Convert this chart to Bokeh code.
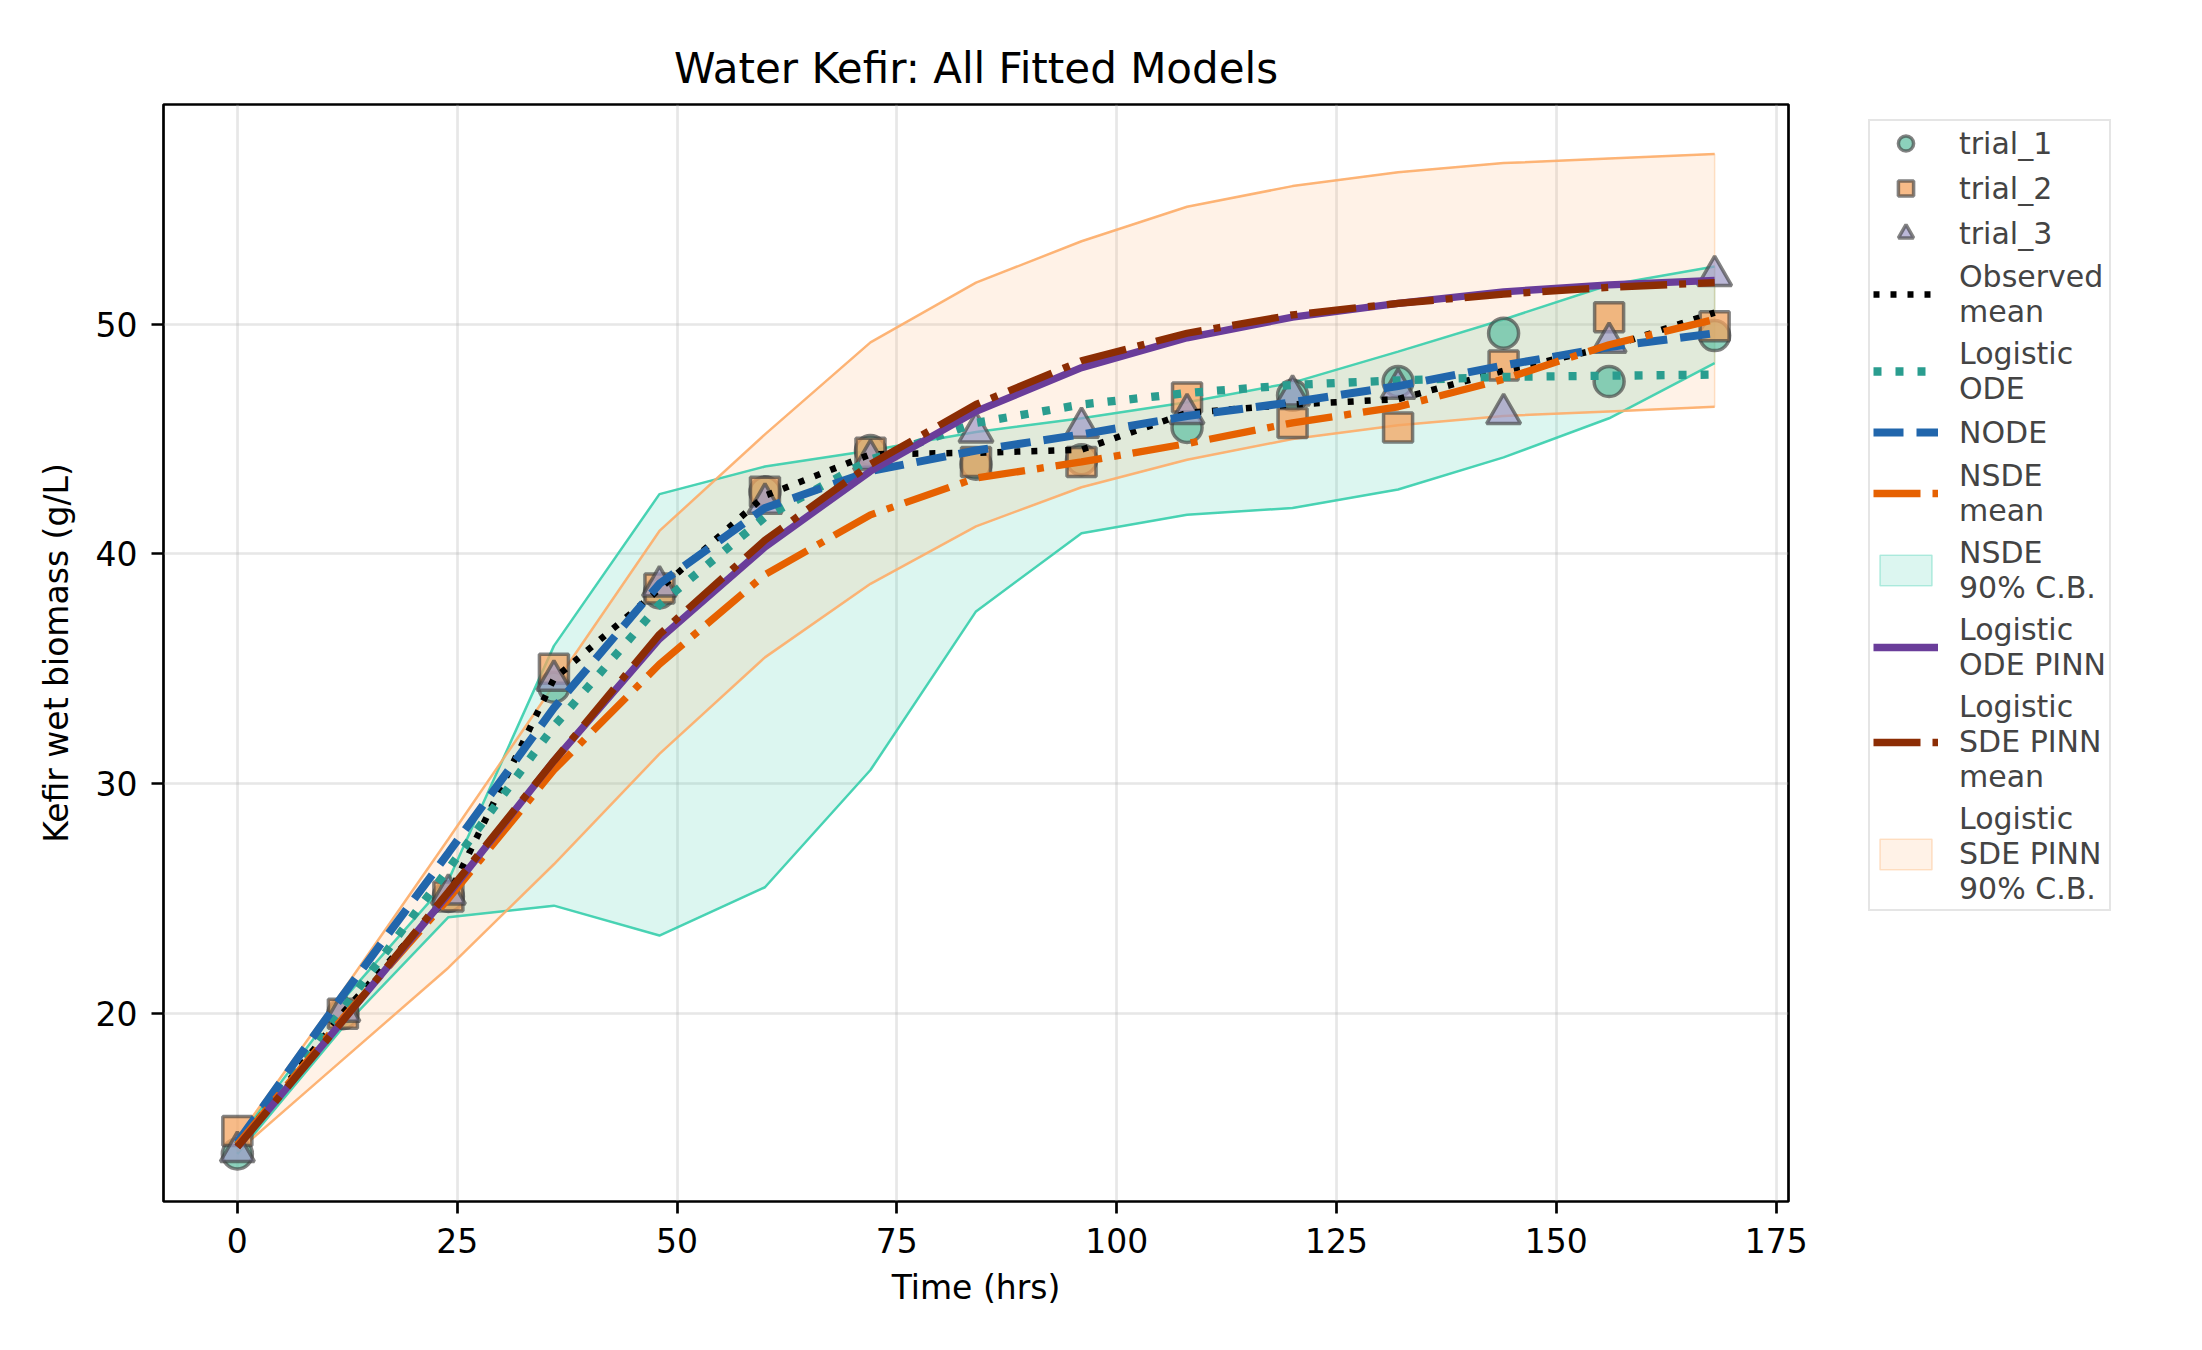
import numpy as np
from bokeh.embed import file_html
from bokeh.layouts import row
from bokeh.models import FixedTicker, Legend, LegendItem, Range1d
from bokeh.plotting import figure
from bokeh.resources import INLINE

# --- data ------------------------------------------------------------------
time_hrs = [0, 12, 24, 36, 48, 60, 72, 84, 96, 108, 120, 132, 144, 156, 168]

trial_1 = [13.9, 20.0, 25.1, 34.2, 38.3, 42.7, 44.5, 43.9, 44.1, 45.5, 46.9, 47.5, 49.6, 47.5, 49.5]
trial_2 = [14.9, 20.0, 25.1, 35.0, 38.5, 42.7, 44.4, 44.0, 44.0, 46.8, 45.7, 45.5, 48.2, 50.3, 49.9]
trial_3 = [14.0, 20.1, 25.2, 34.5, 38.6, 42.2, 44.1, 45.3, 45.5, 46.1, 46.9, 47.2, 46.1, 49.2, 52.1]

logistic_ode = [14.3, 20.2, 26.3, 32.5, 37.8, 41.6, 44.1, 45.7, 46.5, 47.0, 47.35, 47.55, 47.7, 47.75, 47.8]
node = [14.4, 20.8, 27.0, 33.3, 38.7, 42.0, 43.6, 44.5, 45.2, 46.0, 46.6, 47.3, 48.2, 49.0, 49.6]
nsde_mean = [14.3, 19.8, 25.0, 30.6, 35.2, 39.1, 41.7, 43.3, 44.0, 44.8, 45.7, 46.4, 47.6, 49.1, 50.2]
nsde_lower = [13.9, 19.4, 24.2, 24.7, 23.4, 25.5, 30.6, 37.5, 40.9, 41.7, 42.0, 42.8, 44.2, 45.9, 48.3]
nsde_upper = [14.5, 20.6, 25.8, 36.0, 42.6, 43.8, 44.5, 45.3, 45.9, 46.6, 47.45, 48.8, 50.2, 51.7, 52.5]
ode_pinn = [14.2, 19.7, 25.2, 31.0, 36.3, 40.3, 43.6, 46.2, 48.1, 49.4, 50.3, 50.9, 51.4, 51.7, 51.9]
sde_pinn_mean = [14.2, 19.7, 25.3, 31.0, 36.5, 40.6, 43.9, 46.5, 48.4, 49.6, 50.4, 50.9, 51.3, 51.6, 51.8]
sde_pinn_lower = [14.0, 18.0, 22.0, 26.5, 31.3, 35.5, 38.7, 41.2, 42.9, 44.1, 45.0, 45.6, 46.0, 46.2, 46.4]
sde_pinn_upper = [14.6, 21.0, 27.6, 34.3, 41.0, 45.2, 49.2, 51.8, 53.6, 55.1, 56.0, 56.6, 57.0, 57.2, 57.4]

x_ticks = [0, 25, 50, 75, 100, 125, 150, 175]
y_ticks = [20, 30, 40, 50]

legend_labels = [
    "trial_1", "trial_2", "trial_3", "Observed\nmean", "Logistic\nODE", "NODE",
    "NSDE\nmean", "NSDE\n90% C.B.", "Logistic\nODE PINN", "Logistic\nSDE PINN\nmean",
    "Logistic\nSDE PINN\n90% C.B.",
]

observed_mean = np.mean([trial_1, trial_2, trial_3], axis=0)

FONT = "DejaVu Sans"
NSDE_BAND = "#3ccfae"
PINN_BAND = "#fdae6b"
band_x = time_hrs + time_hrs[::-1]


def draw_all(fig, visible=True):
    """Draw every series on fig; returns renderers in legend order."""
    nsde_band = fig.patch(band_x, nsde_upper + nsde_lower[::-1], fill_color=NSDE_BAND,
                          fill_alpha=0.18, line_color=NSDE_BAND, line_alpha=0.35,
                          line_width=1.5, visible=visible)
    pinn_band = fig.patch(band_x, sde_pinn_upper + sde_pinn_lower[::-1], fill_color=PINN_BAND,
                          fill_alpha=0.16, line_color=PINN_BAND, line_alpha=0.35,
                          line_width=1.5, visible=visible)
    if visible:
        for y, c in ((nsde_upper, NSDE_BAND), (nsde_lower, NSDE_BAND),
                     (sde_pinn_upper, PINN_BAND), (sde_pinn_lower, PINN_BAND)):
            fig.line(time_hrs, y, line_color=c, line_alpha=0.9, line_width=2.5)

    marker_kw = dict(line_color="#404040", line_alpha=0.65, line_width=3.5, visible=visible)
    r_t1 = fig.scatter(time_hrs, trial_1, marker="circle", size=30, fill_color="#66c2a5",
                       fill_alpha=0.75, **marker_kw)
    r_t2 = fig.scatter(time_hrs, trial_2, marker="square", size=29, fill_color="#f4a460",
                       fill_alpha=0.75, **marker_kw)
    r_t3 = fig.scatter(time_hrs, trial_3, marker="triangle", size=34, fill_color="#9e9ac8",
                       fill_alpha=0.7, **marker_kw)

    r_obs = fig.line(time_hrs, observed_mean, line_color="black", line_width=6.5,
                     line_dash="6 11", visible=visible)
    r_ode = fig.line(time_hrs, logistic_ode, line_color="#2a9d8f", line_width=8.3,
                     line_dash="8 14", visible=visible)
    r_node = fig.line(time_hrs, node, line_color="#2166ac", line_width=8,
                      line_dash="30 13", visible=visible)
    r_nsde = fig.line(time_hrs, nsde_mean, line_color="#e66101", line_width=7.3,
                      line_dash="47 12 7 12", visible=visible)
    r_pinn = fig.line(time_hrs, ode_pinn, line_color="#6a3d9a", line_width=7.3,
                      visible=visible)
    r_sde = fig.line(time_hrs, sde_pinn_mean, line_color="#8c2d04", line_width=7.3,
                     line_dash="47 12 7 12", visible=visible)
    return [r_t1, r_t2, r_t3, r_obs, r_ode, r_node, r_nsde, nsde_band, r_pinn, r_sde, pinn_band]


# --- main plot ------------------------------------------------------------
p = figure(
    frame_width=1625,
    frame_height=1097,
    x_range=Range1d(-8.4, 176.4),
    y_range=Range1d(11.83, 59.55),
    title="Water Kefir: All Fitted Models",
    x_axis_label="Time (hrs)",
    y_axis_label="Kefir wet biomass (g/L)",
    min_border_left=163,
    min_border_right=40,
    min_border_top=104,
    min_border_bottom=133,
    output_backend="svg",
    toolbar_location=None,
)
draw_all(p)

p.title.align = "center"
p.title.text_font = FONT
p.title.text_font_size = "42px"
p.title.text_font_style = "normal"
p.title.text_color = "black"
p.title.standoff = 23

p.outline_line_color = "black"
p.outline_line_width = 2.7
p.xaxis.ticker = FixedTicker(ticks=x_ticks)
p.yaxis.ticker = FixedTicker(ticks=y_ticks)
for ax in (p.xaxis, p.yaxis):
    ax.axis_line_color = None
    ax.major_tick_line_width = 2.7
    ax.major_tick_out = 12
    ax.major_tick_in = 0
    ax.minor_tick_line_color = None
    ax.major_label_text_font = FONT
    ax.major_label_text_font_size = "33px"
    ax.major_label_text_color = "black"
    ax.axis_label_text_font = FONT
    ax.axis_label_text_font_size = "33px"
    ax.axis_label_text_font_style = "normal"
    ax.axis_label_text_color = "black"
p.xaxis.major_label_standoff = 14
p.yaxis.major_label_standoff = 14
p.xaxis.axis_label_standoff = 12
p.yaxis.axis_label_standoff = 17

p.grid.grid_line_color = "#b0b0b0"
p.grid.grid_line_alpha = 0.3
p.grid.grid_line_width = 2.7

# --- legend panel (outside the axes, like bbox_to_anchor) ----------------
lp = figure(
    width=358,
    height=1334,
    x_axis_type=None,
    y_axis_type=None,
    min_border_left=25,
    min_border_top=104,
    min_border_right=0,
    min_border_bottom=133,
    outline_line_color=None,
    output_backend="svg",
    toolbar_location=None,
)
lp.grid.visible = False
legend_renderers = draw_all(lp, visible=False)

legend = Legend(
    items=[LegendItem(label=lab, renderers=[r]) for lab, r in zip(legend_labels, legend_renderers)],
    location="top_left",
    margin=15,
    label_text_font=FONT,
    label_text_font_size="30px",
    label_text_line_height=1.25,
    glyph_width=65,
    glyph_height=38,
    label_standoff=21,
    spacing=7,
    padding=3,
    border_line_color="#cccccc",
    border_line_width=2.5,
    background_fill_alpha=0.85,
    inactive_fill_alpha=0,
)
lp.add_layout(legend)

open("out.html", "w").write(file_html(row(p, lp), INLINE))
